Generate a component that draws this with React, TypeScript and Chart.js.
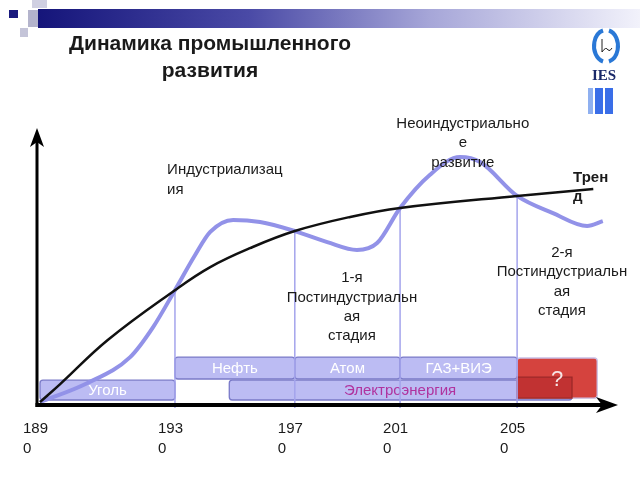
import React, { useEffect, useRef } from 'react';
import { Chart, registerables } from 'chart.js';

Chart.register(...registerables);

// ---- data ----
const titleLines = ['Динамика промышленного', 'развития'];

const milestoneLabels = ['1890', '1930', '1970', '2010', '2050'];
const milestonePos = [0, 24.1, 45.5, 64.3, 85.2];
const trendAtMilestone = [0, 37.3, 57, 64.7, 68.7];

const trendX = [0, 3.6, 12.1, 24.1, 30.4, 37.5, 45.5, 55.4, 64.3, 85.2, 98.8];
const trendY = [0, 6, 20.7, 37.3, 45, 51.3, 57, 61.7, 64.7, 68.7, 71];

const devX = [0, 8.4, 16.1, 20.2, 24.1, 27.7, 30.4, 34.5, 39.3, 45.5, 51.3, 56.6, 60.2, 64.3, 69.6, 75, 78.6, 85.2, 91.6, 97.7, 100.5];
const devY = [0, 6.3, 15, 25, 37.3, 49, 56.7, 60.7, 60, 57, 53.3, 50.7, 53, 64.7, 75.7, 81.7, 80, 68.7, 63, 58.7, 60.3];

const bandLabels = ['Уголь', 'Нефть', 'Атом', 'ГАЗ+ВИЭ', 'Электроэнергия'];
const bandStart = [0, 24.1, 45.5, 64.3, 33.8];
const bandEnd = [24.1, 45.5, 64.3, 85.2, 95];
const bandRow = [0, 1, 1, 1, 0];
const bandLabelX = [12.05, 34.8, 54.9, 74.75, 64.3];
const rowBottom = [0.7, 7.7];
const rowTop = [7.3, 15];

const unknownLabel = '?';
const unknownStart = 85.2;
const unknownEnd = 99.5;
const unknownBottom = 1.3;
const unknownTop = 14.7;
const unknownInnerEnd = 95;
const unknownInnerTop = 8.3;

const stageTexts = [
  { lines: ['Индустриализац', 'ия'], x: 22.7, y: 77.3, align: 'left', bold: false },
  { lines: ['Неоиндустриально', 'е', 'развитие'], x: 75.5, y: 92.7, align: 'center', bold: false },
  { lines: ['1-я', 'Постиндустриальн', 'ая', 'стадия'], x: 55.7, y: 41.3, align: 'center', bold: false },
  { lines: ['2-я', 'Постиндустриальн', 'ая', 'стадия'], x: 93.2, y: 49.7, align: 'center', bold: false },
  { lines: ['Трен', 'д'], x: 95.2, y: 74.7, align: 'left', bold: true },
];

const FONT = '"Liberation Sans", Arial, Helvetica, sans-serif';

const pts = (xs: number[], ys: number[]) => xs.map((x, i) => ({ x, y: ys[i] }));

const decorPlugin = {
  id: 'decor',
  beforeDraw(chart: any) {
    const ctx = chart.ctx as CanvasRenderingContext2D;
    ctx.save();
    ctx.fillStyle = '#ffffff';
    ctx.fillRect(0, 0, chart.width, chart.height);

    // header gradient bar
    const g = ctx.createLinearGradient(38, 0, 640, 0);
    g.addColorStop(0, '#15157a');
    g.addColorStop(0.35, '#4a4aa6');
    g.addColorStop(0.65, '#a6a6d8');
    g.addColorStop(1, '#f2f2fb');
    ctx.fillStyle = g;
    ctx.fillRect(38, 9, 602, 19);

    // small squares
    ctx.fillStyle = '#d0d0e2';
    ctx.fillRect(32, 0, 15, 8);
    ctx.fillStyle = '#1a1a7e';
    ctx.fillRect(9, 10, 9, 8);
    ctx.fillStyle = '#b4b4cc';
    ctx.fillRect(28, 10, 10, 17);
    ctx.fillStyle = '#c4c4d8';
    ctx.fillRect(20, 28, 8, 9);

    // title
    ctx.fillStyle = '#1a1a1a';
    ctx.font = `bold 21px ${FONT}`;
    ctx.textAlign = 'center';
    ctx.textBaseline = 'middle';
    ctx.fillText(titleLines[0], 210, 44);
    ctx.fillText(titleLines[1], 210, 71);

    // logo
    ctx.strokeStyle = '#2a78d6';
    ctx.lineWidth = 4;
    ctx.beginPath();
    ctx.ellipse(606, 46, 12, 16, 0, -Math.PI / 2 + 0.25, Math.PI / 2 - 0.25);
    ctx.stroke();
    ctx.beginPath();
    ctx.ellipse(606, 46, 12, 16, 0, Math.PI / 2 + 0.25, (3 * Math.PI) / 2 - 0.25);
    ctx.stroke();
    ctx.strokeStyle = '#222';
    ctx.lineWidth = 1;
    ctx.beginPath();
    ctx.moveTo(602, 39);
    ctx.lineTo(602, 52);
    ctx.quadraticCurveTo(606, 46, 608, 50);
    ctx.quadraticCurveTo(610, 52, 612, 48);
    ctx.stroke();
    ctx.fillStyle = '#1b2a6a';
    ctx.font = 'bold 15px "Liberation Serif", "DejaVu Serif", serif';
    ctx.fillText('IES', 604, 76);
    ctx.fillStyle = '#8fb0f0';
    ctx.fillRect(588, 88, 5, 26);
    ctx.fillStyle = '#3a6ee8';
    ctx.fillRect(595, 88, 8, 26);
    ctx.fillRect(605, 88, 8, 26);
    ctx.restore();
  },
  beforeDatasetsDraw(chart: any) {
    const ctx = chart.ctx as CanvasRenderingContext2D;
    const xs = chart.scales.x;
    const ys = chart.scales.y;
    ctx.save();
    const box = (x0: number, x1: number, y0: number, y1: number, fill: string, stroke: string, r: number) => {
      const px0 = xs.getPixelForValue(x0);
      const px1 = xs.getPixelForValue(x1);
      const py0 = ys.getPixelForValue(y1);
      const py1 = ys.getPixelForValue(y0);
      ctx.beginPath();
      (ctx as any).roundRect(px0, py0, px1 - px0, py1 - py0, r);
      ctx.fillStyle = fill;
      ctx.fill();
      ctx.lineWidth = 1.3;
      ctx.strokeStyle = stroke;
      ctx.stroke();
    };
    ctx.textAlign = 'center';
    ctx.textBaseline = 'middle';
    ctx.font = `15px ${FONT}`;
    bandLabels.forEach((lab, i) => {
      const r = bandRow[i];
      box(bandStart[i], bandEnd[i], rowBottom[r], rowTop[r], '#bcbcf3', '#7a7ac8', 3);
      ctx.fillStyle = i === 4 ? '#b0339e' : '#ffffff';
      const cy = ys.getPixelForValue((rowBottom[r] + rowTop[r]) / 2);
      ctx.fillText(lab, xs.getPixelForValue(bandLabelX[i]), cy + 1);
    });
    // unknown future box
    box(unknownStart, unknownEnd, unknownBottom, unknownTop, '#d5433e', '#c9c0e6', 3);
    box(unknownStart, unknownInnerEnd, unknownBottom, unknownInnerTop, '#c13232', '#9c2828', 0);
    ctx.fillStyle = '#f6e6e6';
    ctx.font = `22px ${FONT}`;
    ctx.fillText(
      unknownLabel,
      xs.getPixelForValue((unknownStart + unknownEnd) / 2),
      ys.getPixelForValue((unknownBottom + unknownTop) / 2) + 2
    );
    ctx.restore();
  },
  afterDatasetsDraw(chart: any) {
    const ctx = chart.ctx as CanvasRenderingContext2D;
    const xs = chart.scales.x;
    const ys = chart.scales.y;
    const a = chart.chartArea;
    ctx.save();
    ctx.fillStyle = '#000';
    ctx.strokeStyle = '#000';
    // y axis arrow
    const ax = a.left - 3;
    const ay = a.bottom + 3;
    ctx.lineWidth = 3;
    ctx.beginPath();
    ctx.moveTo(ax, ay + 2);
    ctx.lineTo(ax, a.top + 38);
    ctx.stroke();
    ctx.beginPath();
    ctx.moveTo(ax, a.top + 26);
    ctx.lineTo(ax + 7, a.top + 45);
    ctx.lineTo(ax, a.top + 40);
    ctx.lineTo(ax - 7, a.top + 45);
    ctx.closePath();
    ctx.fill();
    // x axis arrow
    ctx.lineWidth = 4;
    ctx.beginPath();
    ctx.moveTo(ax - 1.5, ay);
    ctx.lineTo(a.right + 4, ay);
    ctx.stroke();
    ctx.beginPath();
    ctx.moveTo(a.right + 18, ay);
    ctx.lineTo(a.right - 4, ay - 8);
    ctx.lineTo(a.right + 2, ay);
    ctx.lineTo(a.right - 4, ay + 8);
    ctx.closePath();
    ctx.fill();

    // stage annotations
    ctx.textBaseline = 'middle';
    ctx.fillStyle = '#1a1a1a';
    stageTexts.forEach((t) => {
      ctx.font = `${t.bold ? 'bold ' : ''}15px ${FONT}`;
      ctx.textAlign = t.align as CanvasTextAlign;
      const px = xs.getPixelForValue(t.x);
      const py = ys.getPixelForValue(t.y);
      t.lines.forEach((l, i) => ctx.fillText(l, px, py + i * 19.3));
    });
    ctx.restore();
  },
};

export default function App() {
  const ref = useRef<HTMLCanvasElement | null>(null);
  useEffect(() => {
    if (!ref.current) return;
    const chart = new Chart(ref.current, {
      type: 'line',
      data: {
        datasets: [
          {
            label: 'Тренд',
            data: pts(trendX, trendY),
            borderColor: '#111111',
            borderWidth: 2.5,
            pointRadius: 0,
            tension: 0.4,
            order: 1,
            clip: false,
          },
          {
            label: 'Развитие',
            data: pts(devX, devY),
            borderColor: '#9292e8',
            borderWidth: 4,
            pointRadius: 0,
            cubicInterpolationMode: 'monotone',
            order: 2,
            clip: false,
          },
          ...milestonePos.slice(1).map((p, i) => ({
            label: milestoneLabels[i + 1],
            data: [
              { x: p, y: -2 },
              { x: p, y: trendAtMilestone[i + 1] },
            ],
            borderColor: '#a4a4ec',
            borderWidth: 1.5,
            pointRadius: 0,
            order: 3,
            clip: false,
          })),
        ] as any,
      },
      options: {
        animation: false,
        responsive: false,
        layout: { padding: { left: 40, right: 40, top: 102, bottom: 4 } },
        plugins: { legend: { display: false }, tooltip: { enabled: false }, title: { display: false } },
        scales: {
          x: {
            type: 'linear',
            min: 0,
            max: 100,
            grid: { display: false, drawTicks: false },
            border: { display: false },
            afterBuildTicks: (axis: any) => {
              axis.ticks = milestonePos.map((v) => ({ value: v }));
            },
            ticks: {
              autoSkip: false,
              maxRotation: 0,
              minRotation: 0,
              align: 'start',
              labelOffset: -17,
              padding: 17,
              color: '#1a1a1a',
              font: { size: 15, family: FONT, lineHeight: 1.33 },
              callback: (_v: any, i: number) => {
                const s = milestoneLabels[i];
                return [s.slice(0, 3), s.slice(3)];
              },
            },
          },
          y: { type: 'linear', min: 0, max: 100, display: false },
        },
      } as any,
      plugins: [decorPlugin],
    });
    return () => chart.destroy();
  }, []);
  return (
    <div style={{ position: 'fixed', left: 0, top: 0, width: 640, height: 480 }}>
      <canvas ref={ref} width={640} height={480} />
    </div>
  );
}
